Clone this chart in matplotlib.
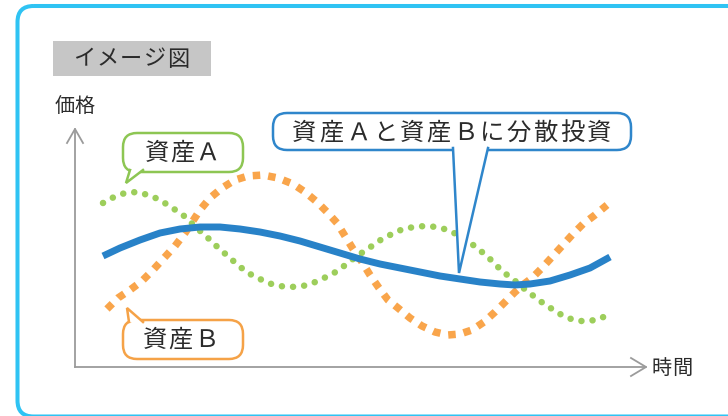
import matplotlib
matplotlib.use("Agg")
import matplotlib.pyplot as plt
from matplotlib.patches import FancyBboxPatch, Polygon, Rectangle

plt.rcParams['font.family'] = ['Noto Sans CJK JP', 'DejaVu Sans']

# values, in axis units (origin = corner of the two axes)
asset_a_time = [28, 39, 50, 62, 73, 83, 93, 102, 112, 120, 129, 138, 147, 155, 164, 173, 183, 193,
                204, 216, 228, 238, 249, 259, 269, 278, 288, 297, 307, 317, 328, 339, 350, 362,
                373, 383, 393, 402, 412, 420, 428, 438, 447, 456, 465, 474, 483, 493, 503, 514,
                525, 530]
asset_a_price = [164, 170, 174, 175, 172, 168, 162, 156, 149, 140, 133, 124, 116, 109, 101, 94, 89, 84,
                 81, 80, 81, 84, 89, 94, 101, 108, 115, 121, 128, 133, 138, 140, 141, 140,
                 137, 132, 126, 119, 111, 103, 95, 88, 80, 73, 66, 60, 54, 49, 46, 46,
                 48, 51]

asset_b_time = [32, 43, 55, 67, 78, 89, 100, 110, 125, 135, 147, 160, 173, 188, 203, 218, 230, 242,
                252, 262, 270, 278, 287, 295, 304, 313, 323, 335, 347, 360, 373, 385, 397, 409,
                420, 430, 440, 449, 457, 467, 477, 487, 497, 508, 520, 532]
asset_b_price = [58, 69, 77, 86, 97, 109, 121, 134, 157, 169, 179, 187, 191, 192, 189, 183, 175, 165,
                 155, 144, 131, 118, 105, 92, 79, 67, 59, 49, 41, 35, 32, 33, 37, 45,
                 55, 65, 75, 83, 89, 99, 110, 121, 132, 143, 152, 162]

mix_time = [28, 45, 65, 85, 105, 125, 145, 165, 185, 205, 225, 245, 265, 285, 305, 325, 345,
            365, 385, 405, 425, 440, 455, 475, 495, 515, 535]
mix_price = [111, 119, 127, 134, 138, 140, 140, 138, 135, 131, 126, 120, 114, 108, 103, 99, 95,
             91, 88, 85, 83, 82, 83, 86, 92, 99, 110]

GREEN = '#9dce5b'
ORANGE = '#f9a54b'
BLUE = '#2882c8'
GRAY = '#9b9b9b'
TEXT = '#2b2b2b'

W, H = 728, 416
fig = plt.figure(figsize=(W / 100, H / 100), dpi=100)

# chart axes: lower-left corner of the arrows at (75, 367) px
left, bottom, right, top = 75, 367, 646, 129
ax = fig.add_axes([left / W, (H - bottom) / H, (right - left) / W, (bottom - top) / H])
ax.set_xlim(0, right - left)
ax.set_ylim(0, bottom - top)
ax.patch.set_alpha(0)
for side in ['top', 'right']:
    ax.spines[side].set_visible(False)
for side in ['left', 'bottom']:
    ax.spines[side].set_color(GRAY)
    ax.spines[side].set_linewidth(1.3)
ax.set_xticks([])
ax.set_yticks([])

ax.plot(asset_b_time, asset_b_price, color=ORANGE, lw=5.4,
        linestyle=(0, (1.0, 1.07)), dash_capstyle='butt', zorder=2)
ax.plot(asset_a_time, asset_a_price, color=GREEN, lw=4.7,
        linestyle=(0, (0.01, 1.7)), dash_capstyle='round', zorder=3)
ax.plot(mix_time, mix_price, color=BLUE, lw=5.0, solid_capstyle='butt',
        solid_joinstyle='round', zorder=4)

# overlay in pixel coordinates for the frame, labels and callouts
ov = fig.add_axes([0, 0, 1, 1], zorder=5)
ov.set_xlim(0, W)
ov.set_ylim(H, 0)
ov.axis('off')
ov.patch.set_alpha(0)

ov.add_patch(FancyBboxPatch((17.5, 6), 730, 410.5, boxstyle="round,pad=0,rounding_size=16",
                            fc='none', ec='#2fc3f3', lw=2.9))
ov.add_patch(Rectangle((53, 41), 158, 35, fc='#c6c6c6', ec='none'))

# arrow heads
ov.plot([67, 75, 83], [143, 129, 143], color=GRAY, lw=1.3, solid_joinstyle='miter')
ov.plot([631, 646, 631], [358, 367, 376], color=GRAY, lw=1.3, solid_joinstyle='miter')


def spaced(x, y, s, step, size):
    for i, ch in enumerate(s):
        ov.text(x + step * (i + 0.5), y, ch, fontsize=size, ha='center', va='center', color=TEXT)


def callout(x0, y0, x1, y1, base, tip, color):
    ov.add_patch(FancyBboxPatch((x0, y0), x1 - x0, y1 - y0, boxstyle="round,pad=0,rounding_size=14",
                                fc='white', ec=color, lw=1.8, zorder=3))
    ov.add_patch(Polygon([base[0], tip, base[1]], closed=True, fc='white', ec='none', zorder=4))
    ov.plot([base[0][0], tip[0], base[1][0]], [base[0][1], tip[1], base[1][1]],
            color=color, lw=1.8, solid_joinstyle='miter', zorder=5)


callout(123, 133, 243, 172, [(130, 170), (143, 170)], (126, 183), '#8dc653')
callout(123, 320, 243, 359, [(129, 322), (143, 322)], (127, 308), '#f5a247')
callout(273, 113, 631, 150, [(453, 148), (488, 148)], (459, 273), '#2f86cb')

spaced(72, 59, 'イメージ図', 23.6, 16)
spaced(54, 106, '価格', 20.5, 14.5)
spaced(651, 368, '時間', 20.5, 14.5)
spaced(144, 153, '資産Ａ', 25.5, 17.5)
spaced(142, 340, '資産Ｂ', 25.5, 17.5)
spaced(291, 133, '資産Ａと資産Ｂに分散投資', 26.8, 17.5)

fig.savefig('out.png', dpi=100, facecolor='white')
